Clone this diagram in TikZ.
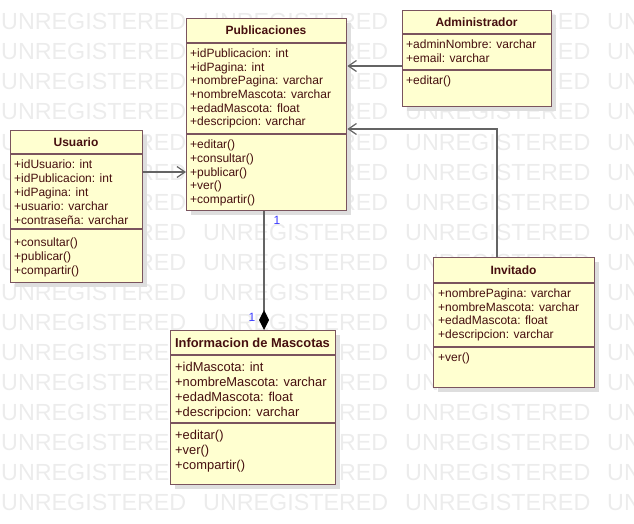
\documentclass[tikz,border=0pt]{standalone}
\usepackage{fontspec}
\setmainfont{Liberation Sans}
\usetikzlibrary{arrows.meta,shadows}
\definecolor{umlfill}{RGB}{255,255,208}
\definecolor{umlline}{RGB}{122,84,94}
\definecolor{umltext}{RGB}{70,15,15}
\definecolor{wmgray}{RGB}{236,236,236}
\definecolor{shadowgray}{RGB}{222,222,222}
\definecolor{conngray}{RGB}{100,100,100}
\definecolor{multblue}{RGB}{60,60,255}
\tikzset{
  wm/.style={anchor=base west, inner sep=0pt, text=wmgray, font=\fontsize{23.3}{24}\selectfont},
  classbox/.style={rectangle, draw=umlline, fill=umlfill, line width=1.4pt, inner sep=0pt, anchor=north west,
    drop shadow={shadow xshift=4pt, shadow yshift=-4pt, fill=shadowgray, opacity=1}},
  classtitle/.style={inner sep=0pt, text=umltext, font=\fontsize{12}{14}\selectfont\bfseries},
  sepline/.style={draw=umlline, line width=1.3pt},
  members/.style={anchor=north west, inner sep=0pt, align=left, text=umltext},
  conn/.style={draw=conngray, line width=1.3pt},
  openarrow/.style={conn, -{Straight Barb[length=8pt, width=11pt, line width=1.2pt]}},
  comp/.style={conn, -{Diamond[length=20pt, width=10pt, color=black]}},
  mult/.style={inner sep=0pt, text=multblue, font=\fontsize{12}{14}\selectfont},
}
\newcommand{\fl}{\rule{0pt}{0.8em}}
\begin{document}
\begin{tikzpicture}[x=1pt,y=-1pt]
\useasboundingbox (0,0) rectangle (634,524);
% watermark
\begin{scope}
\clip (0,0) rectangle (634,524);
\foreach \r in {0,...,16}{
  \foreach \c in {0,...,3}{
    \node[wm] (wm-\r-\c) at (1+202*\c, 30+30*\r) {UNREGISTERED};
  }
}
\end{scope}

% Publicaciones
\node[classbox, minimum width=160pt, minimum height=192pt] (pub) at (186,18) {};
\node[classtitle] (pub-t) at (266,30.5) {Publicaciones};
\draw[sepline] (pub.west |- 0,43) -- (pub.east |- 0,43);
\draw[sepline] (pub.west |- 0,134) -- (pub.east |- 0,134);
\node[members, font=\fontsize{12}{13.6}\selectfont] (pub-a) at (190,48)
  {\fl+idPublicacion: int\\+idPagina: int\\+nombrePagina: varchar\\+nombreMascota: varchar\\+edadMascota: float\\+descripcion: varchar};
\node[members, font=\fontsize{12}{13.6}\selectfont] (pub-m) at (190,139)
  {\fl+editar()\\+consultar()\\+publicar()\\+ver()\\+compartir()};

% Administrador
\node[classbox, minimum width=149pt, minimum height=96pt] (adm) at (402,10) {};
\node[classtitle] (adm-t) at (476.5,22) {Administrador};
\draw[sepline] (adm.west |- 0,34) -- (adm.east |- 0,34);
\draw[sepline] (adm.west |- 0,70) -- (adm.east |- 0,70);
\node[members, font=\fontsize{12}{13.6}\selectfont] (adm-a) at (406,39)
  {\fl+adminNombre: varchar\\+email: varchar};
\node[members, font=\fontsize{12}{13.6}\selectfont] (adm-m) at (406,75)
  {\fl+editar()};

% Usuario
\node[classbox, minimum width=132pt, minimum height=152pt] (usu) at (10,130) {};
\node[classtitle] (usu-t) at (76,142) {Usuario};
\draw[sepline] (usu.west |- 0,154) -- (usu.east |- 0,154);
\draw[sepline] (usu.west |- 0,229) -- (usu.east |- 0,229);
\node[members, font=\fontsize{12}{14}\selectfont] (usu-a) at (14,158.5)
  {\fl+idUsuario: int\\+idPublicacion: int\\+idPagina: int\\+usuario: varchar\\+contraseña: varchar};
\node[members, font=\fontsize{12}{13.6}\selectfont] (usu-m) at (14,237)
  {\fl+consultar()\\+publicar()\\+compartir()};

% Informacion de Mascotas
\node[classbox, minimum width=165pt, minimum height=154pt] (inf) at (170,330) {};
\node[classtitle, font=\fontsize{12.9}{15}\selectfont\bfseries] (inf-t) at (252.5,342.5) {Informacion de Mascotas};
\draw[sepline] (inf.west |- 0,355) -- (inf.east |- 0,355);
\draw[sepline] (inf.west |- 0,423) -- (inf.east |- 0,423);
\node[members, font=\fontsize{12.9}{15}\selectfont] (inf-a) at (175,360.5)
  {\fl+idMascota: int\\+nombreMascota: varchar\\+edadMascota: float\\+descripcion: varchar};
\node[members, font=\fontsize{12.9}{15}\selectfont] (inf-m) at (175,428.5)
  {\fl+editar()\\+ver()\\+compartir()};

% Invitado
\node[classbox, minimum width=161pt, minimum height=130pt] (inv) at (433,257) {};
\node[classtitle] (inv-t) at (513.5,270) {Invitado};
\draw[sepline] (inv.west |- 0,283) -- (inv.east |- 0,283);
\draw[sepline] (inv.west |- 0,347) -- (inv.east |- 0,347);
\node[members, font=\fontsize{12}{13.5}\selectfont] (inv-a) at (438,288)
  {\fl+nombrePagina: varchar\\+nombreMascota: varchar\\+edadMascota: float\\+descripcion: varchar};
\node[members, font=\fontsize{12}{13.5}\selectfont] (inv-m) at (438,352)
  {\fl+ver()};

% connectors
\draw[openarrow] (usu.east |- 0,172) -- (pub.west |- 0,172);
\draw[openarrow] (adm.west |- 0,66) -- (pub.east |- 0,66);
\draw[openarrow] (inv.north -| 497,0) |- (pub.east |- 0,129);
\draw[comp] (pub.south -| 264,0) -- (inf.north -| 264,0);
\node[mult] (m1) at (277,220) {1};
\node[mult] (m2) at (252,317) {1};
\end{tikzpicture}
\end{document}
